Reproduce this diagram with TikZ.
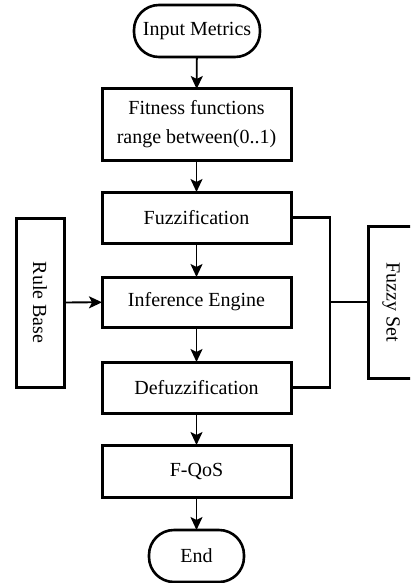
\documentclass[tikz,border=0pt]{standalone}
\usepackage{fontspec}
\setmainfont{Liberation Serif}
\usetikzlibrary{arrows.meta}

\tikzset{
  x=1pt, y=-1pt,
  every node/.style={font=\fontsize{20}{29}\selectfont, inner sep=0pt, outer sep=0pt},
  procbox/.style={draw, line width=3pt, minimum width=189pt, align=center},
  terminal/.style={draw, line width=2.6pt, rounded corners=25pt},
  sidebox/.style={draw, line width=3pt},
  flow/.style={line width=1.8pt, -{Stealth[length=13pt, width=12pt, inset=3pt]}},
  link/.style={line width=2.2pt}
}

\begin{document}
\begin{tikzpicture}
  \clip (0,0) rectangle (410,583);
  \fill[white] (0,0) rectangle (410,583);

  % main flow
  \node[terminal, minimum width=126pt, minimum height=52pt] (in) at (197,31) {Input Metrics};
  \node[procbox, minimum height=71pt] (fit) at (196.5,124.5) {Fitness functions\\range between(0..1)};
  \node[procbox, minimum height=51pt] (fuz) at (196.5,217.5) {Fuzzification};
  \node[procbox, minimum height=50pt] (inf) at (196.5,302) {Inference Engine};
  \node[procbox, minimum height=51pt] (def) at (196.5,387.5) {Defuzzification};
  \node[procbox, minimum height=52pt] (qos) at (196.5,471) {F-QoS};
  \node[terminal, minimum width=95pt, minimum height=52pt] (end) at (196.5,556) {End};

  % side boxes
  \node[sidebox, minimum width=48pt, minimum height=169pt] (rule) at (40,302.5) {};
  \node[rotate=-90] at (rule.center) {Rule Base};
  \node[sidebox, minimum width=46pt, minimum height=152pt] (fset) at (391,302) {};
  \node[rotate=-90] at (fset.center) {Fuzzy Set};

  % arrows
  \draw[flow] (in) -- (fit);
  \draw[flow] (fit) -- (fuz);
  \draw[flow] (fuz) -- (inf);
  \draw[flow] (inf) -- (def);
  \draw[flow] (def) -- (qos);
  \draw[flow] (qos) -- (end);
  \draw[flow] (rule) -- (inf);

  % fuzzy set links
  \coordinate (bus) at (330,302);
  \draw[link] (fuz.east) -| (bus) |- (def.east);
  \draw[link] (bus) -- (fset.west);
\end{tikzpicture}
\end{document}
